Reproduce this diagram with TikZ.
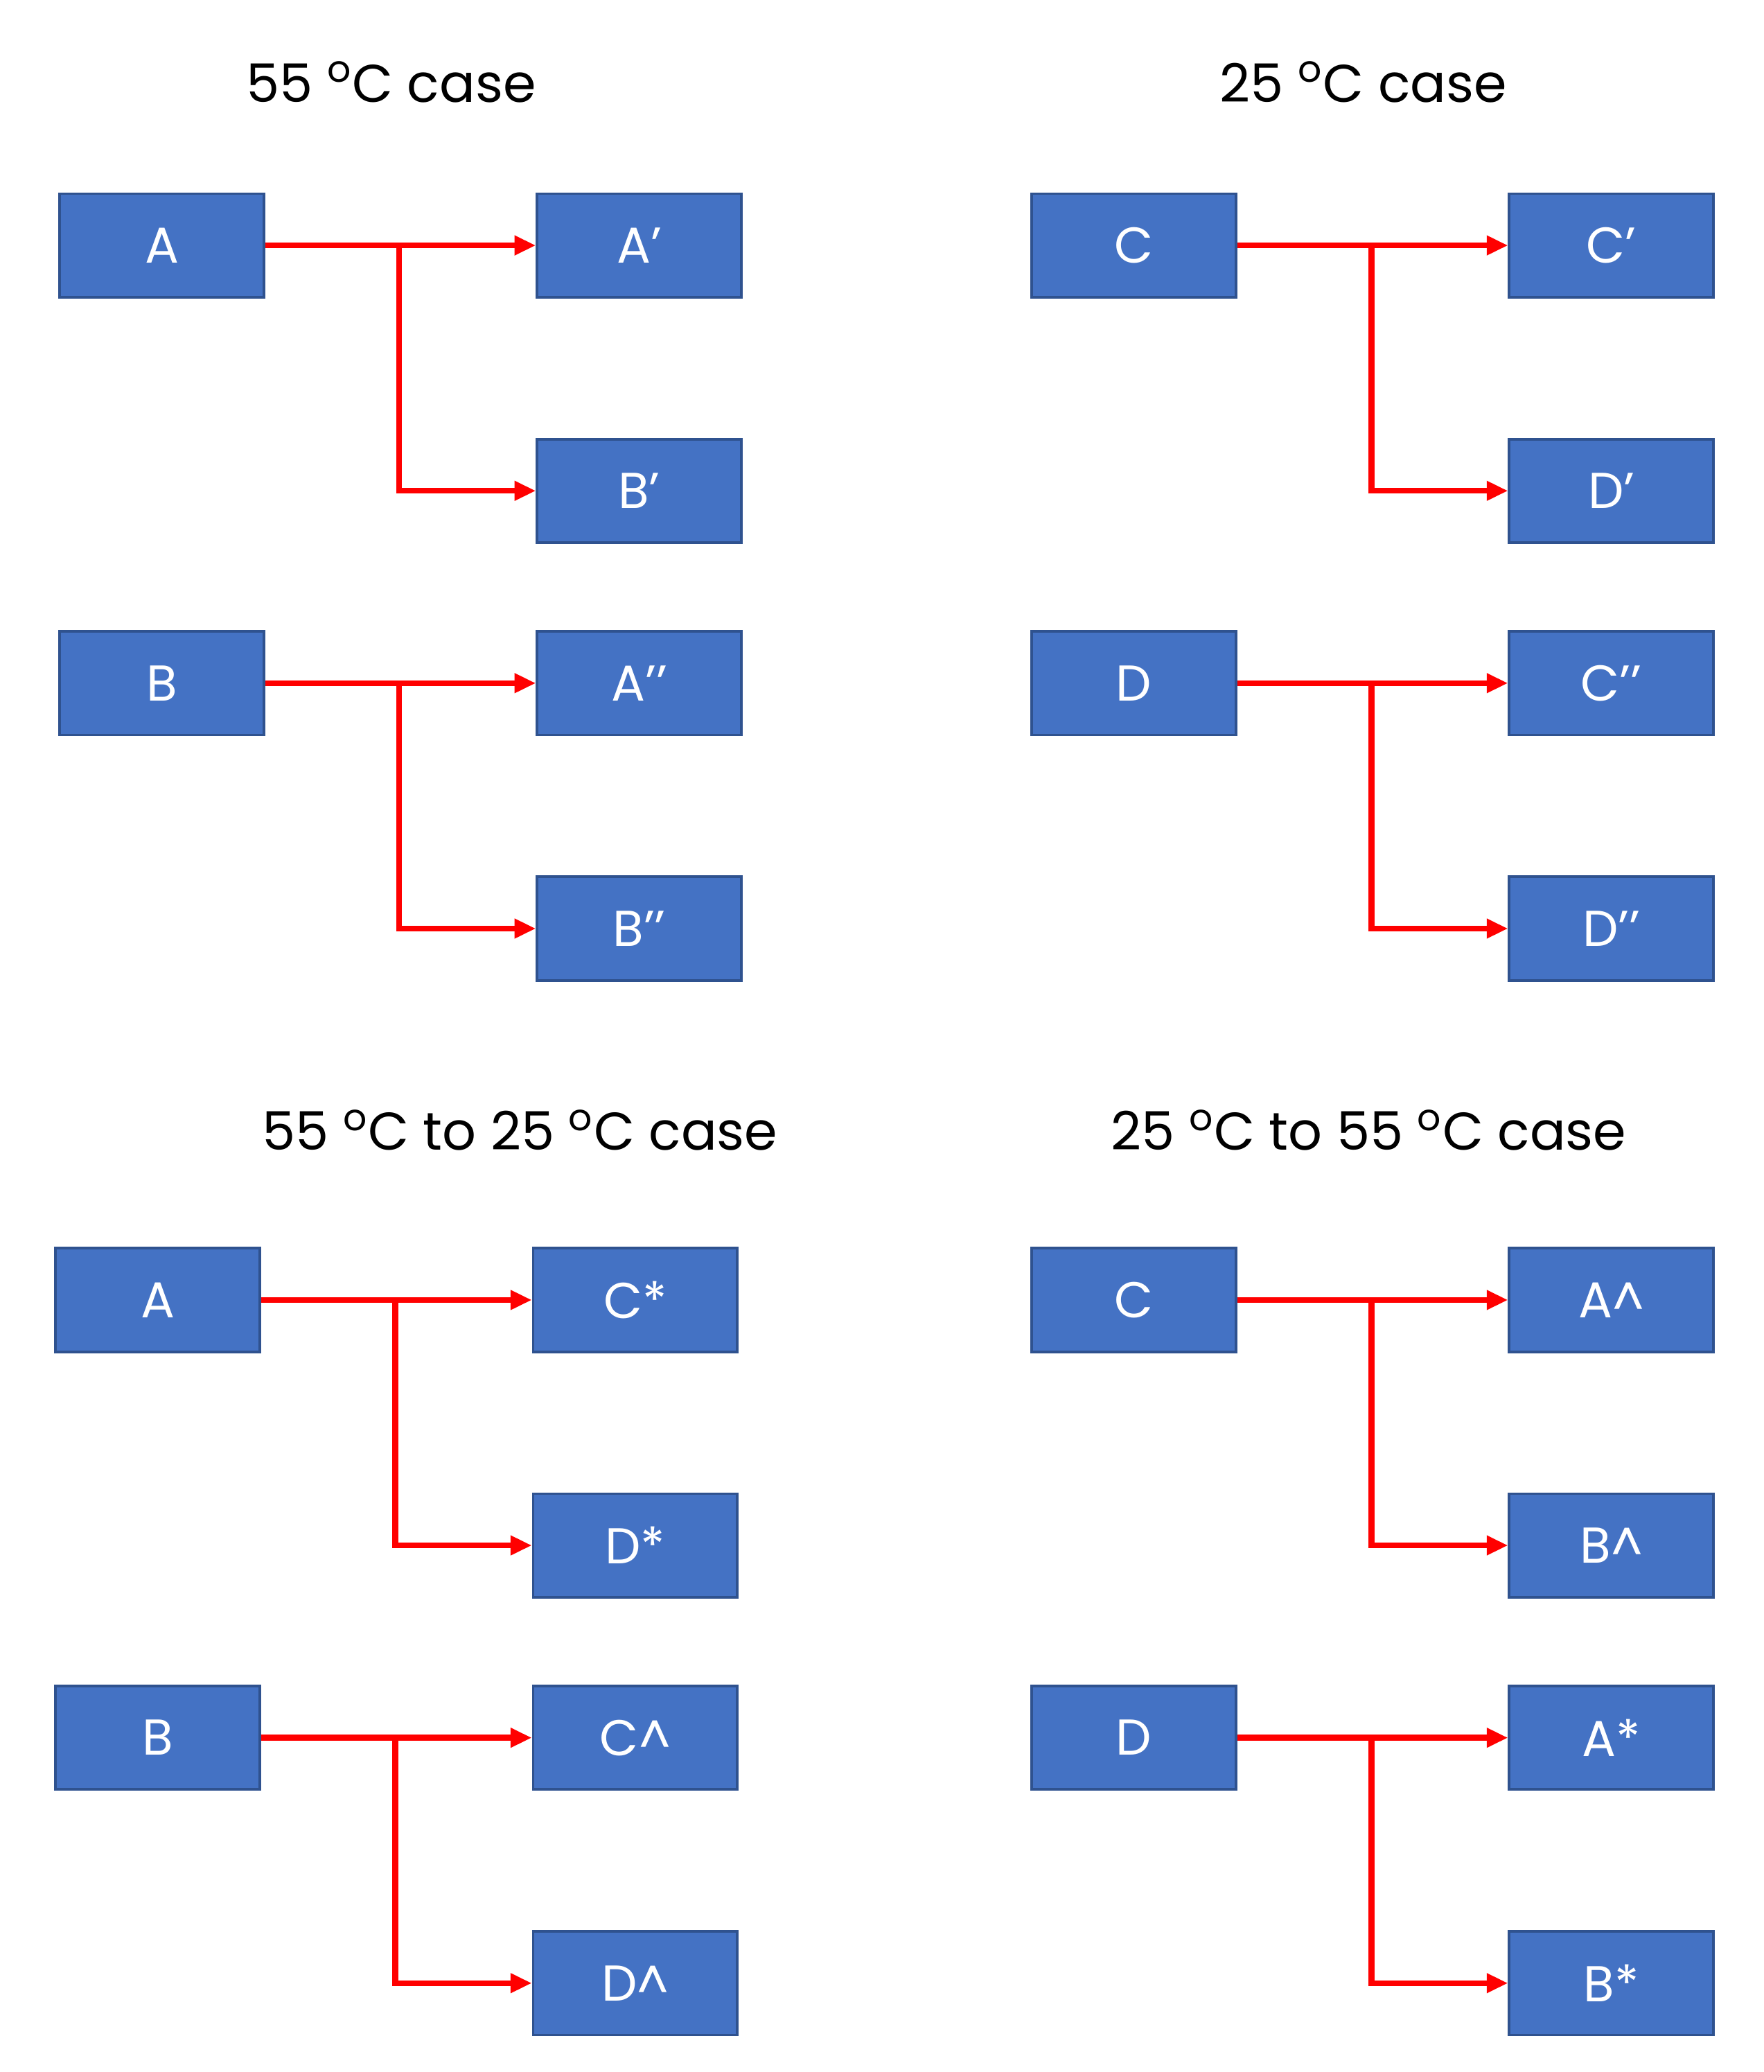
\documentclass[tikz,border=0pt]{standalone}
\usepackage{fontspec}
\setmainfont{Poppins}
\usetikzlibrary{arrows.meta}
\definecolor{boxblue}{HTML}{4472C4}
\definecolor{boxedge}{HTML}{2F528F}
\begin{document}
\begin{tikzpicture}[x=0.5pt,y=-0.5pt,
  box/.style={draw=boxedge,line width=1pt,fill=boxblue,minimum width=77pt,minimum height=39pt,inner sep=0pt,text=white,font=\fontsize{19}{22}\selectfont},
  ttl/.style={font=\fontsize{20}{24}\selectfont},
  con/.style={draw=red,line width=2.2pt,-{Triangle[length=8pt,width=7pt]}}]
\useasboundingbox (0,0) rectangle (1330,1562);
\newcommand{\mygroup}[6]{%
  \node[box] (#1s) at (#2+78,#3+40) {#4};
  \node[box] (#1t) at (#2+438,#3+40) {#5};
  \node[box] (#1u) at (#2+438,#3+225) {#6};
  \coordinate (#1j) at (#2+257,#3+40);
  \draw[con] (#1s.east) -- (#1t.west);
  \draw[con] (#1j) |- (#1u.west);
}
\node[ttl] (t1) at (295,62) {55 \textsuperscript{o}C case};
\node[ttl] (t2) at (1028,62) {25 \textsuperscript{o}C case};
\node[ttl] (t3) at (392,852) {55 \textsuperscript{o}C to 25 \textsuperscript{o}C case};
\node[ttl] (t4) at (1032,852) {25 \textsuperscript{o}C to 55 \textsuperscript{o}C case};
\mygroup{a}{44}{145}{A}{A’}{B’}
\mygroup{b}{44}{475}{B}{A’’}{B’’}
\mygroup{c}{777}{145}{C}{C’}{D’}
\mygroup{d}{777}{475}{D}{C’’}{D’’}
\mygroup{e}{41}{940}{A}{C*}{D*}
\mygroup{f}{41}{1270}{B}{C\^{}}{D\^{}}
\mygroup{g}{777}{940}{C}{A\^{}}{B\^{}}
\mygroup{h}{777}{1270}{D}{A*}{B*}
\end{tikzpicture}
\end{document}
